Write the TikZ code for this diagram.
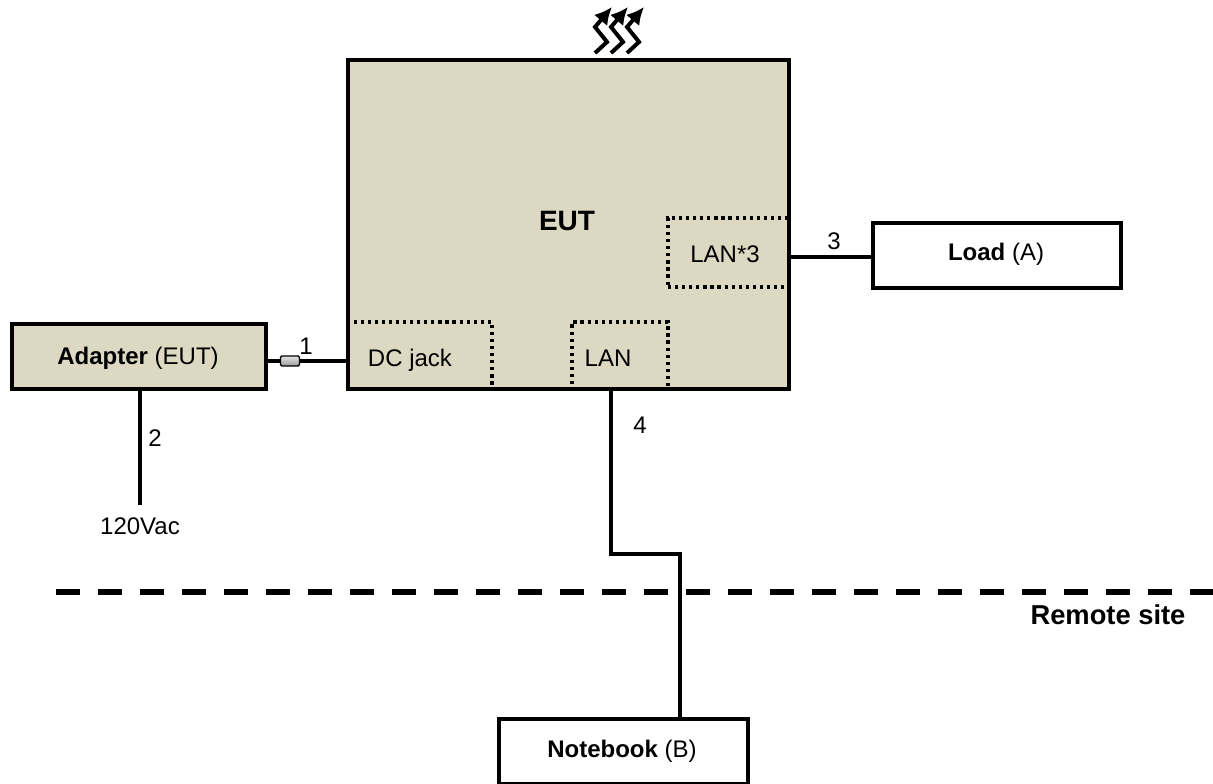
\documentclass[tikz,border=0pt]{standalone}
\usepackage{fontspec}
\setmainfont{Liberation Sans}
\usetikzlibrary{arrows.meta}
\definecolor{eutfill}{RGB}{221,216,194}
\begin{document}
\begin{tikzpicture}[x=0.75pt, y=-0.75pt,
  box/.style={rectangle, draw, line width=3pt, inner sep=0pt, outer sep=0pt},
  port/.style={rectangle, draw, line width=2.4pt, dash pattern=on 2.4pt off 2.9pt, inner sep=0pt, outer sep=0pt},
  wire/.style={line width=2.6pt},
  lbl/.style={inner sep=0pt, font=\fontsize{18}{22}\selectfont}]
\useasboundingbox (0,0) rectangle (1213,784);
\node (eut) [box, fill=eutfill, minimum width=441*0.75pt, minimum height=329*0.75pt] at (568.5,224.5) {};
\node (dcjack) [port, minimum width=144*0.75pt, minimum height=67*0.75pt] at (420,355.5) {};
\node (lan) [port, minimum width=96*0.75pt, minimum height=67*0.75pt] at (620,355.5) {};
\node (lanthree) [port, minimum width=121*0.75pt, minimum height=69*0.75pt] at (728.5,252.5) {};
\draw[line width=3pt] (eut.south west) rectangle (eut.north east);
\node (adapter) [box, fill=eutfill, minimum width=254*0.75pt, minimum height=65*0.75pt] at (139,356.5) {};
\node (load) [box, minimum width=248*0.75pt, minimum height=65*0.75pt] at (997,255.5) {};
\node (notebook) [box, minimum width=249*0.75pt, minimum height=65*0.75pt] at (623.5,751.5) {};
\node (plug) [rectangle, rounded corners=1pt, draw, line width=1pt, top color=white!80!gray, bottom color=gray!80, inner sep=0pt, minimum width=19*0.75pt, minimum height=10*0.75pt] at (290,361) {};
\coordinate (acin) at (140,505);
\coordinate (lanout) at (611,389);
\coordinate (nbin) at (680,719);
\coordinate (loadin) at (873,257);
\coordinate (sitel) at (56,592);
\coordinate (siter) at (1213,592);
\draw[wire] (plug -| adapter.east) -- (plug.west);
\draw[wire] (plug.east) -- (plug -| eut.west);
\draw[wire] (loadin) -- (loadin -| eut.east);
\draw[wire] (acin |- adapter.south) -- (acin);
\draw[wire] (lanout) |- (680,554) -- (nbin);
\draw[line width=4.5pt, dash pattern=on 18pt off 13.5pt] (sitel) -- (siter);
\foreach \x in {0,16,32}
  \draw[-{Latex[length=13pt,width=13pt]}, line width=3pt] (595+\x,53) -- (607+\x,42) -- (595+\x,27) -- (601+\x,20) -- (612+\x,7);
\node (euttext) [lbl, font=\fontsize{21}{25}\selectfont\bfseries] at (567,221) {EUT};
\node (dctext) [lbl] at (410,360) {DC jack};
\node (lantext) [lbl] at (608,358) {LAN};
\node (lanthreetext) [lbl] at (725,254) {LAN*3};
\node (adaptertext) [lbl] at (138,358) {\textbf{Adapter} (EUT)};
\node (loadtext) [lbl] at (996,254) {\textbf{Load} (A)};
\node (notebooktext) [lbl] at (622,751) {\textbf{Notebook} (B)};
\node (sitetext) [lbl, font=\fontsize{20.5}{25}\selectfont\bfseries] at (1108,615) {Remote site};
\node (one) [lbl] at (306,346) {1};
\node (two) [lbl] at (155,438) {2};
\node (three) [lbl] at (834,241) {3};
\node (four) [lbl] at (640,425) {4};
\node (vac) [lbl] at (140,526) {120Vac};
\end{tikzpicture}
\end{document}
